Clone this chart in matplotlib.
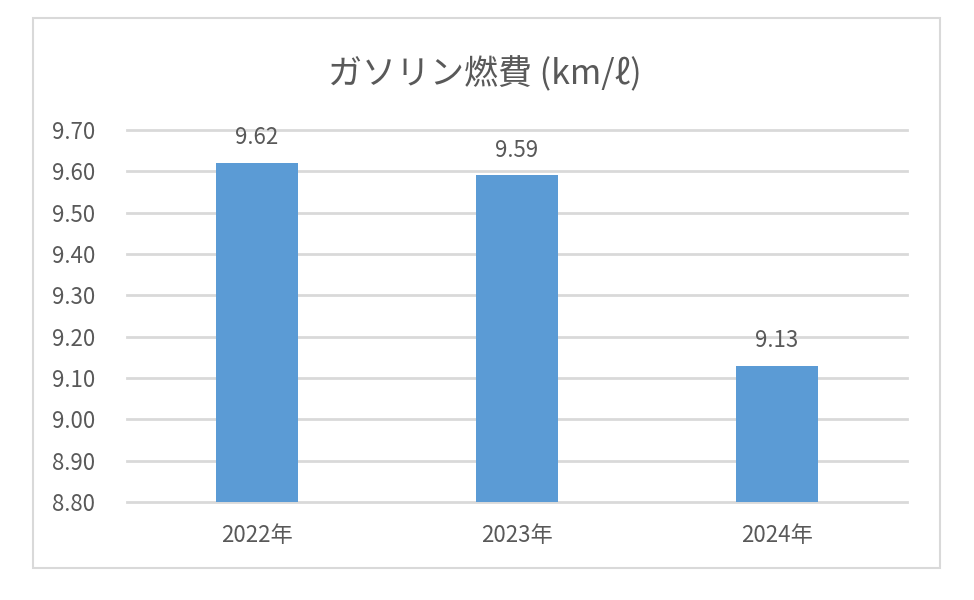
import matplotlib
matplotlib.use("Agg")
import matplotlib.pyplot as plt
from matplotlib.patches import Rectangle

plt.rcParams['font.family'] = ['Noto Sans CJK JP', 'DejaVu Sans']

years = ['2022年', '2023年', '2024年']
mileage = [9.62, 9.59, 9.13]
yticks = [8.80, 8.90, 9.00, 9.10, 9.20, 9.30, 9.40, 9.50, 9.60, 9.70]

text_col = '#595959'
grid_col = '#D9D9D9'
bar_col = '#5B9BD5'

fig = plt.figure(figsize=(9.74, 6), dpi=100)
# outer chart border
fig.patches.append(Rectangle((33 / 974, 1 - 568 / 600), (940 - 33) / 974, (568 - 18) / 600,
                             transform=fig.transFigure, fill=False,
                             edgecolor=grid_col, linewidth=1.5))

ax = fig.add_axes([127 / 974, 1 - 502 / 600, (907 - 127) / 974, (502 - 130) / 600])
x = range(len(years))
bars = ax.bar(x, mileage, width=0.315, color=bar_col, zorder=3)
ax.set_xlim(-0.5, 2.5)
ax.set_ylim(8.8, 9.7)
ax.set_yticks(yticks)
ax.set_yticklabels(['%.2f' % v for v in yticks])
ax.set_xticks(list(x))
ax.set_xticklabels(years)
ax.yaxis.grid(True, color=grid_col, linewidth=2, zorder=0)
for gl in ax.get_ygridlines():
    gl.set_clip_on(False)
for s in ax.spines.values():
    s.set_visible(False)
ax.tick_params(length=0, labelsize=16, colors=text_col)
ax.tick_params(axis='y', pad=23)
ax.tick_params(axis='x', pad=16)

for xi, v in zip(x, mileage):
    ax.annotate('%.2f' % v, (xi, v), xytext=(0, 10), textcoords='offset points',
                ha='center', va='bottom', fontsize=16, color=text_col)

fig.text(485 / 974, 1 - 75 / 600, 'ガソリン燃費 (km/ℓ)', ha='center', va='center',
         fontsize=24.5, color=text_col)

fig.savefig('out.png', dpi=100)
